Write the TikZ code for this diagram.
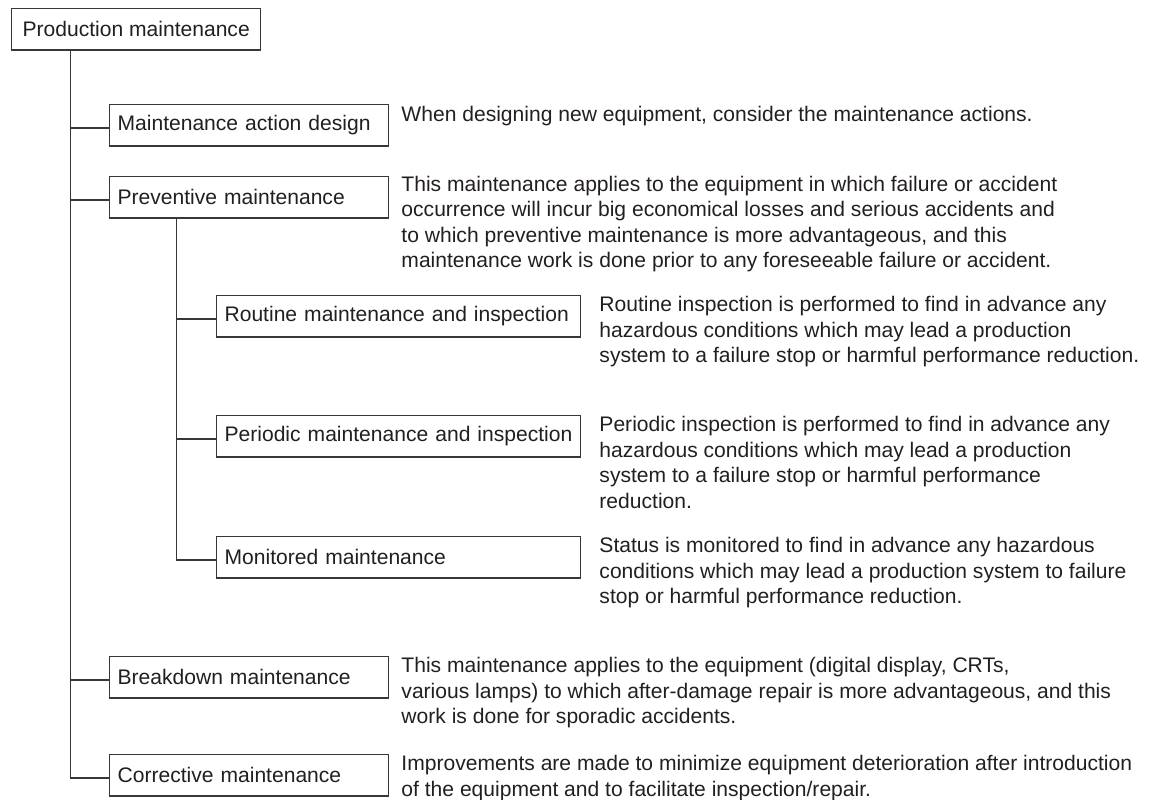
\documentclass[tikz,border=0pt]{standalone}
\usepackage{fontspec}
\setmainfont{Liberation Sans}
\usepackage{tikz}
\definecolor{ink}{RGB}{35,31,32}
\definecolor{rule}{RGB}{55,55,55}
\tikzstyle{rootbox} = [rectangle,
anchor=north west,
minimum height=31.1pt,
inner xsep=8.25pt,
inner ysep=0pt,
draw=rule,
line width=0.9pt,
fill=white]
\tikzstyle{mainbox} = [rectangle,
anchor=north west,
minimum height=31.1pt,
text width=197.25pt,
inner xsep=6pt,
inner ysep=0pt,
align=left,
draw=rule,
line width=0.9pt,
fill=white]
\tikzstyle{subbox} = [mainbox,
text width=261pt]
\tikzstyle{note} = [anchor=north west,
inner sep=0pt,
align=left]
\tikzstyle{branch} = [draw=rule, line width=0.9pt]

\begin{document}
\begin{tikzpicture}[x=0.75pt, y=-0.75pt, font=\fontsize{15.8}{19.05}\selectfont, text=ink]
    \useasboundingbox (0,0) rectangle (1152,799);

    % tree of maintenance types
    \node (production) [rootbox] at (11,8) {Production maintenance};
    \node (actiondesign) [mainbox] at (109,104) {Maintenance action design};
    \node (preventive) [mainbox] at (109,176) {Preventive maintenance};
    \node (routine) [subbox] at (216,295) {Routine maintenance and inspection};
    \node (periodic) [subbox] at (216,415) {Periodic maintenance and inspection};
    \node (monitored) [subbox] at (216,536) {Monitored maintenance};
    \node (breakdown) [mainbox] at (109,656) {Breakdown maintenance};
    \node (corrective) [mainbox] at (109,754) {Corrective maintenance};

    % explanations
    \node (actiondesignnote) [note] at ([xshift=9pt,yshift=-1.5pt]actiondesign.north east) {When designing new equipment, consider the maintenance actions.};
    \node (preventivenote) [note] at ([xshift=9pt,yshift=0pt]preventive.north east) {This maintenance applies to the equipment in which failure or accident\\occurrence will incur big economical losses and serious accidents and\\to which preventive maintenance is more advantageous, and this\\maintenance work is done prior to any foreseeable failure or accident.};
    \node (routinenote) [note] at ([xshift=13.5pt,yshift=-1pt]routine.north east) {Routine inspection is performed to find in advance any\\hazardous conditions which may lead a production\\system to a failure stop or harmful performance reduction.};
    \node (periodicnote) [note] at ([xshift=13.5pt,yshift=-1pt]periodic.north east) {Periodic inspection is performed to find in advance any\\hazardous conditions which may lead a production\\system to a failure stop or harmful performance\\reduction.};
    \node (monitorednote) [note] at ([xshift=13.5pt,yshift=-1pt]monitored.north east) {Status is monitored to find in advance any hazardous\\conditions which may lead a production system to failure\\stop or harmful performance reduction.};
    \node (breakdownnote) [note] at ([xshift=9pt,yshift=-1pt]breakdown.north east) {This maintenance applies to the equipment (digital display, CRTs,\\various lamps) to which after-damage repair is more advantageous, and this\\work is done for sporadic accidents.};
    \node (correctivenote) [note] at ([xshift=9pt,yshift=-1pt]corrective.north east) {Improvements are made to minimize equipment deterioration after introduction\\of the equipment and to facilitate inspection/repair.};

    \coordinate (trunk) at ([xshift=44.8pt]production.south west);
    \coordinate (subtrunk) at ([xshift=50.5pt]preventive.south west);

    \draw [branch] (trunk) |- ([yshift=-2pt]actiondesign.west);
    \draw [branch] (trunk) |- ([yshift=-2pt]preventive.west);
    \draw [branch] (trunk) |- ([yshift=-2pt]breakdown.west);
    \draw [branch] (trunk) |- ([yshift=-2pt]corrective.west);
    \draw [branch] (subtrunk) |- ([yshift=-2pt]routine.west);
    \draw [branch] (subtrunk) |- ([yshift=-2pt]periodic.west);
    \draw [branch] (subtrunk) |- ([yshift=-2pt]monitored.west);
\end{tikzpicture}
\end{document}
